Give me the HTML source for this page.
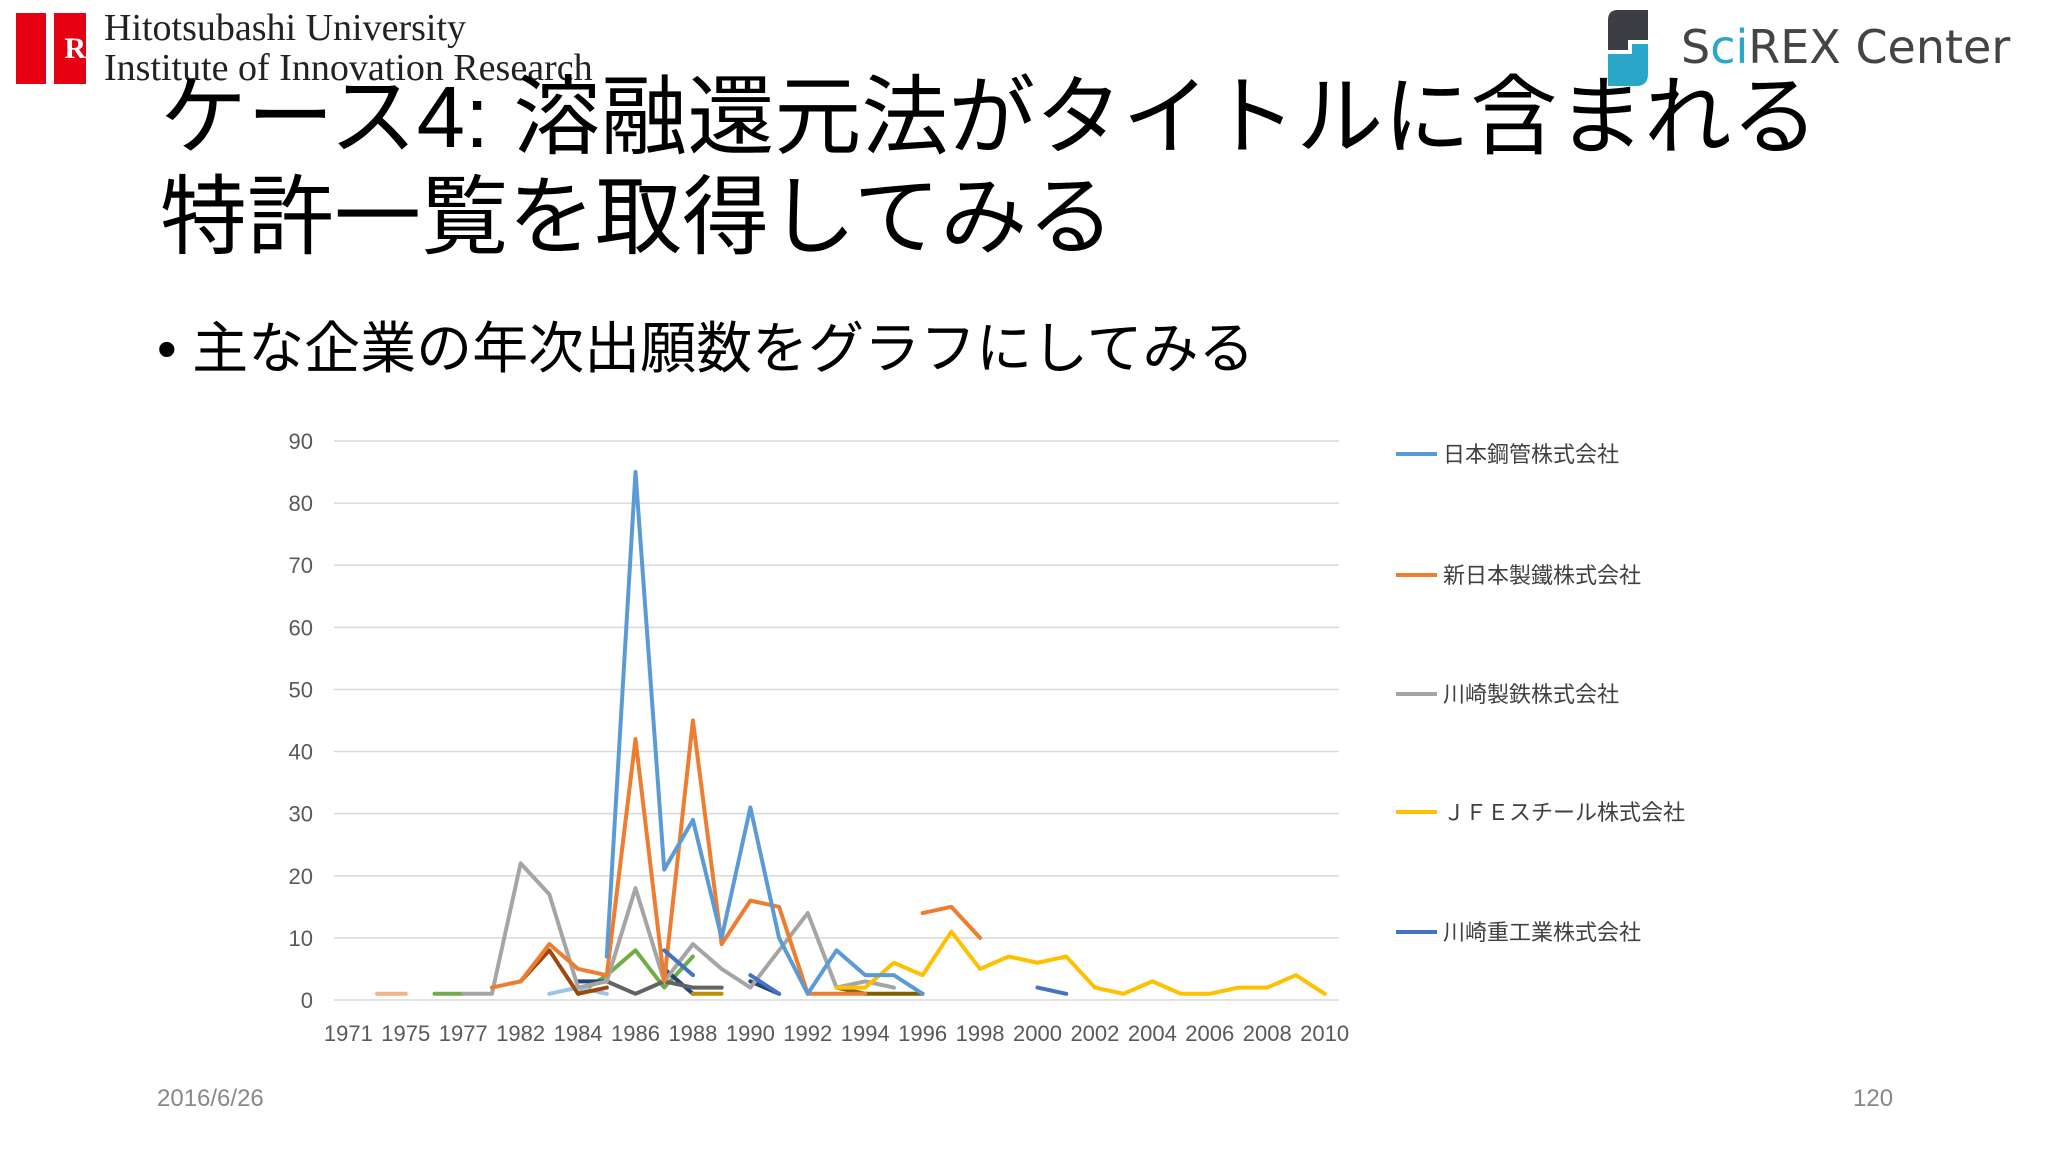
<!DOCTYPE html>
<html><head><meta charset="utf-8">
<style>
body{margin:0;width:2048px;height:1152px;background:#fff;position:relative;overflow:hidden;font-family:"Liberation Sans","Noto Sans CJK JP",sans-serif;}
.abs{position:absolute;white-space:nowrap;}
</style></head>
<body>
<div class="abs" style="left:16px;top:13px;width:70px;height:71px;">
  <div style="position:absolute;left:0;top:0;width:30px;height:71px;background:#e60012;"></div>
  <div style="position:absolute;left:38px;top:0;width:32px;height:71px;background:#e60012;color:#fff;font:bold 30px 'Liberation Serif',serif;text-align:right;line-height:71px;">R</div>
</div>
<div class="abs" style="left:104px;top:8px;font:38px/40px 'Liberation Serif',serif;color:#222;">Hitotsubashi University<br>Institute of Innovation Research</div>
<svg class="abs" style="left:1604px;top:10px" width="48" height="78">
  <path d="M14 0 H44 V30 H24 V40 H4 V10 Q4 0 14 0Z" fill="#3d3d44"/>
  <path d="M28 34 H44 V64 Q44 76 32 76 H4 V44 H28Z" fill="#2aa6c9"/>
</svg>
<div class="abs" style="left:1681px;top:20px;font:46px 'DejaVu Sans',sans-serif;color:#444;">S<span style="color:#2aa6c9">ci</span>REX Center</div>
<div class="abs" style="left:160px;top:68px;font-size:87px;line-height:100px;color:#000;">ケース4: 溶融還元法がタイトルに含まれる<br>特許一覧を取得してみる</div>
<div class="abs" style="left:157px;top:304px;font-size:56px;color:#000;">•&nbsp;主な企業の年次出願数をグラフにしてみる</div>
<div class="abs" style="left:157px;top:1085px;font-size:24px;color:#888;">2016/6/26</div>
<div class="abs" style="left:1853px;top:1085px;font-size:24px;color:#888;">120</div>
<svg id="chart" class="abs" style="left:0;top:0" width="2048" height="1152"></svg>
<script>
const categories=["1971","1973","1975","1976","1977","1980","1982","1983","1984","1985","1986","1987","1988","1989","1990","1991","1992","1993","1994","1995","1996","1997","1998","1999","2000","2001","2002","2003","2004","2005","2006","2007","2008","2009","2010"];
const yTicks=[0,10,20,30,40,50,60,70,80,90];
const N=null;
const sNKK=[N,N,N,N,N,N,N,N,N,7,85,21,29,10,31,10,1,8,4,4,1,N,N,N,N,N,N,N,N,N,N,N,N,N,N];
const sNSC=[N,N,N,N,N,2,3,9,5,4,42,3,45,9,16,15,1,1,1,N,14,15,10,N,N,N,N,N,N,N,N,N,N,N,N];
const sKSC=[N,N,N,N,1,1,22,17,2,3,18,3,9,5,2,8,14,2,3,2,N,N,N,N,N,N,N,N,N,N,N,N,N,N,N];
const sJFE=[N,N,N,N,N,N,N,N,N,N,N,N,N,N,N,N,N,2,2,6,4,11,5,7,6,7,2,1,3,1,1,2,2,4,1];
const sKHI=[N,N,N,N,N,N,N,N,N,N,N,8,4,N,4,1,N,N,N,N,N,N,N,N,2,1,N,N,N,N,N,N,N,N,N];
const sLtOrange=[N,1,1,N,N,N,N,N,N,N,N,N,N,N,N,N,N,N,N,N,N,N,N,N,N,N,N,N,N,N,N,N,N,N,N];
const sGreen=[N,N,N,1,1,N,N,N,1,4,8,2,7,N,N,N,N,N,N,N,N,N,N,N,N,N,N,N,N,N,N,N,N,N,N];
const sLtBlue=[N,N,N,N,N,N,N,1,2,1,N,N,N,N,N,N,N,N,N,N,N,N,N,N,N,N,N,N,N,N,N,N,N,N,N];
const sBrown=[N,N,N,N,N,N,3,8,1,2,N,N,N,N,N,N,N,N,N,N,N,N,N,N,N,N,N,N,N,N,N,N,N,N,N];
const sNavy=[N,N,N,N,N,N,N,N,3,3,N,5,1,N,3,1,N,N,N,N,N,N,N,N,N,N,N,N,N,N,N,N,N,N,N];
const sDkGray=[N,N,N,N,N,N,N,N,N,3,1,3,2,2,N,N,N,N,N,N,N,N,N,N,N,N,N,N,N,N,N,N,N,N,N];
const sGold=[N,N,N,N,N,N,N,N,N,N,N,N,1,1,N,N,N,N,N,N,N,N,N,N,N,N,N,N,N,N,N,N,N,N,N];
const sOlive=[N,N,N,N,N,N,N,N,N,N,N,N,N,N,N,N,N,2,1,1,1,N,N,N,N,N,N,N,N,N,N,N,N,N,N];
const legendNames=["日本鋼管株式会社","新日本製鐵株式会社","川崎製鉄株式会社","ＪＦＥスチール株式会社","川崎重工業株式会社"];

const svg=document.getElementById('chart');const NS='http://www.w3.org/2000/svg';
const L=334,R=1339,Y0=1000,Y90=441;
const step=(R-L)/categories.length;
const xs=i=>L+step*(i+0.5);
const ys=v=>Y0-(v/90)*(Y0-Y90);
function mk(t,a){const e=document.createElementNS(NS,t);for(const k in a)e.setAttribute(k,a[k]);svg.appendChild(e);return e;}
yTicks.forEach(t=>{
  const g=mk('line',{x1:L,x2:R,y1:ys(t),y2:ys(t),stroke:'#d9d9d9','stroke-width':1.5});
  
  
  const tx=mk('text',{x:313,y:ys(t)+8,'text-anchor':'end','font-size':22,fill:'#595959','font-family':'Liberation Sans, sans-serif'});
  tx.textContent=t;
  
  
});
categories.forEach((c,i)=>{if(i%2)return;
  const tx=mk('text',{x:xs(i),y:1041,'text-anchor':'middle','font-size':22,fill:'#595959','font-family':'Liberation Sans, sans-serif'});
  tx.textContent=c;
  
  
});
const series=[[sLtOrange,'#F4B183','series-light-orange'],[sGreen,'#70AD47','series-green'],[sLtBlue,'#9DC3E6','series-light-blue'],[sBrown,'#9E480E','series-brown'],[sNavy,'#264478','series-navy'],[sDkGray,'#636363','series-dark-gray'],[sGold,'#BF9000','series-gold'],[sOlive,'#7F6000','series-olive'],[sKSC,'#A5A5A5','series-kawasaki-steel'],[sJFE,'#FFC000','series-jfe'],[sNSC,'#ED7D31','series-nippon-steel'],[sKHI,'#4472C4','series-kawasaki-heavy'],[sNKK,'#5B9BD5','series-nkk']];
series.forEach(([d,col,nm])=>{
  let segs=[],cur=[];
  d.forEach((v,i)=>{if(v===null){if(cur.length)segs.push(cur);cur=[];}else cur.push([xs(i),ys(v)]);});
  if(cur.length)segs.push(cur);
  segs.forEach(s=>{
    const p=mk('polyline',{points:s.map(q=>q.join(',')).join(' '),fill:'none',stroke:col,'stroke-width':4,'stroke-linejoin':'round','stroke-linecap':'round'});
    
    
  });
});
const legCols=['#5B9BD5','#ED7D31','#A5A5A5','#FFC000','#4472C4'];
const legY=[454,575,694,812,932];
legendNames.forEach((n,i)=>{
  const l=mk('line',{x1:1396,x2:1437,y1:legY[i],y2:legY[i],stroke:legCols[i],'stroke-width':4});
  
  
  const t=mk('text',{x:1443,y:legY[i]+8,'font-size':22,fill:'#404040','font-family':'Liberation Sans, Noto Sans CJK JP, sans-serif'});
  t.textContent=n;
  
  
});
</script>
</body></html>
